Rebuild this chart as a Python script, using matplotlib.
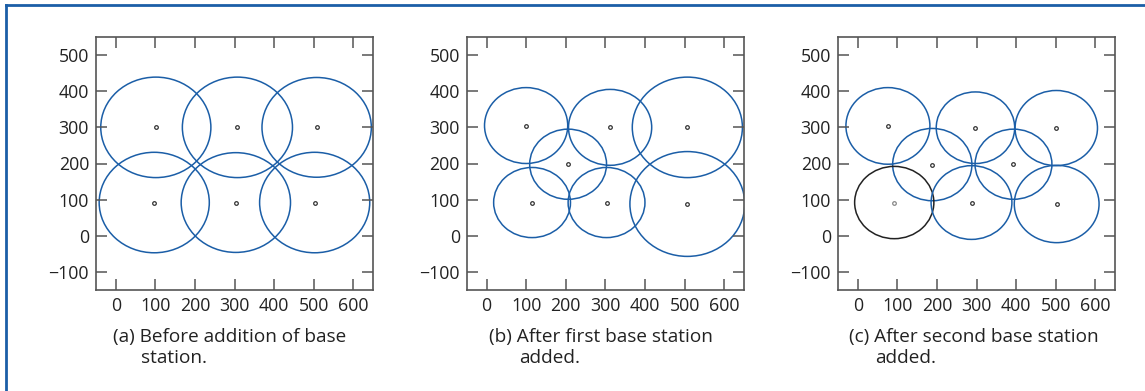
import matplotlib
matplotlib.use("Agg")
import matplotlib.pyplot as plt
from matplotlib.lines import Line2D

plt.rcParams['font.family'] = ['Open Sans', 'DejaVu Sans']

# base station centres (x, y) and coverage radius for each panel
a_x = [101, 307, 507, 97, 303, 502]
a_y = [300, 300, 300, 92, 92, 92]
a_r = [139, 139, 138, 139, 138, 139]

b_x = [100, 312, 507, 206, 115, 303, 507]
b_y = [305, 300, 300, 198, 92, 92, 88]
b_r = [105, 105, 139, 97, 97, 97, 145]

c_x = [76, 297, 501, 188, 393, 92, 287, 502]
c_y = [304, 299, 298, 197, 198, 92, 92, 88]
c_r = [106, 99, 104, 100, 97, 100, 102, 107]
c_black = 5  # the old station drawn in black

captions = [("(a)", "Before addition of base", "station."),
            ("(b)", "After first base station", "added."),
            ("(c)", "After second base station", "added.")]

xticks = [0, 100, 200, 300, 400, 500, 600]
yticks = [-100, 0, 100, 200, 300, 400, 500]

blue = '#1b5ea7'
txt = '#222222'

fig = plt.figure(figsize=(11.45, 3.91), dpi=100)

lefts = [96, 466.7, 838]
W, H = 1145.0, 391.0
panels = [(a_x, a_y, a_r, None), (b_x, b_y, b_r, None), (c_x, c_y, c_r, c_black)]

for i, (xs, ys, rs, blk) in enumerate(panels):
    ax = fig.add_axes([lefts[i] / W, 1 - 290 / H, 277.3 / W, 253 / H])
    for j in range(len(xs)):
        col = '#222222' if j == blk else blue
        ax.add_patch(plt.Circle((xs[j], ys[j]), rs[j], fill=False, ec=col, lw=1.1))
        mcol = '#888888' if j == blk else '#333333'
        ax.plot(xs[j], ys[j], 'o', ms=2.6, mfc='white', mec=mcol, mew=0.9)
    ax.set_xlim(-50, 650)
    ax.set_ylim(-150, 550)
    ax.set_xticks(xticks)
    ax.set_yticks(yticks)
    ax.tick_params(direction='in', length=8, width=1.1, color='#555555',
                   top=True, right=True, labelsize=12.8, labelcolor=txt, pad=5)
    for s in ax.spines.values():
        s.set_color('#555555')
        s.set_linewidth(1.2)

    tag, line1, line2 = captions[i]
    cx = [112.7, 489.3, 849.3][i]
    cx2 = [140.7, 519, 875.3][i]
    fig.text(cx / W, 1 - 337 / H, tag + " " + line1, fontsize=13.7, color=txt, va='center')
    fig.text(cx2 / W, 1 - 358 / H, line2, fontsize=13.7, color=txt, va='center')

# blue frame along top and left edges
fig.add_artist(Line2D([5.5 / W, 5.5 / W], [0, 1 - 5 / H], color=blue, lw=2, transform=fig.transFigure))
fig.add_artist(Line2D([5.5 / W, 1], [1 - 5 / H, 1 - 5 / H], color=blue, lw=2, transform=fig.transFigure))

fig.savefig('out.png', dpi=100)
